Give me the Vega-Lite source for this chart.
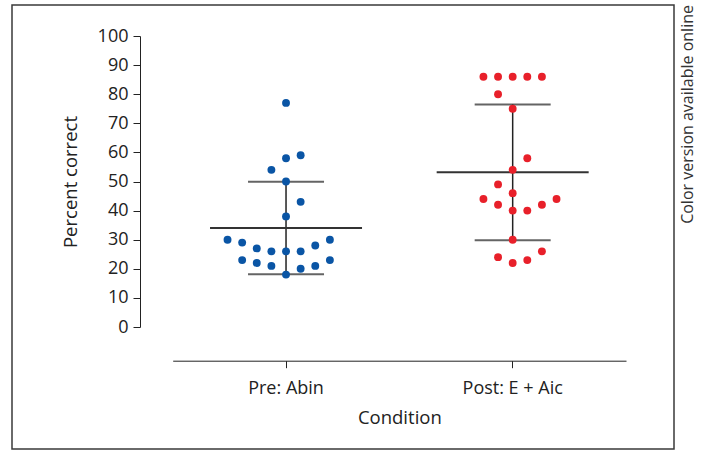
{
  "$schema": "https://vega.github.io/schema/vega-lite/v6.json",
  "width": 662,
  "height": 444,
  "autosize": "none",
  "padding": {"left": 12, "top": 5, "right": 28, "bottom": 2},
  "title": {
    "text": "Color version available online",
    "orient": "right",
    "anchor": "start",
    "angle": -90,
    "align": "right",
    "fontSize": 16,
    "fontWeight": "normal",
    "font": "Open Sans",
    "color": "#333333",
    "offset": -10,
    "frame": "group"
  },
  "config": {
    "view": {"stroke": "#3a3a3a", "strokeWidth": 1.5},
    "font": "Open Sans",
    "axis": {
      "grid": false,
      "domainColor": "#222222",
      "tickColor": "#222222",
      "labelColor": "#222222",
      "titleColor": "#222222",
      "titleFontWeight": "normal"
    }
  },
  "data": {
    "values": [
      {"condition": "Pre: Abin", "value": 77, "col": 0},
      {"condition": "Pre: Abin", "value": 59, "col": 1},
      {"condition": "Pre: Abin", "value": 58, "col": 0},
      {"condition": "Pre: Abin", "value": 54, "col": -1},
      {"condition": "Pre: Abin", "value": 50, "col": 0},
      {"condition": "Pre: Abin", "value": 43, "col": 1},
      {"condition": "Pre: Abin", "value": 38, "col": 0},
      {"condition": "Pre: Abin", "value": 30, "col": -4},
      {"condition": "Pre: Abin", "value": 30, "col": 3},
      {"condition": "Pre: Abin", "value": 29, "col": -3},
      {"condition": "Pre: Abin", "value": 27, "col": -2},
      {"condition": "Pre: Abin", "value": 26, "col": -1},
      {"condition": "Pre: Abin", "value": 26, "col": 0},
      {"condition": "Pre: Abin", "value": 26, "col": 1},
      {"condition": "Pre: Abin", "value": 28, "col": 2},
      {"condition": "Pre: Abin", "value": 23, "col": -3},
      {"condition": "Pre: Abin", "value": 23, "col": 3},
      {"condition": "Pre: Abin", "value": 22, "col": -2},
      {"condition": "Pre: Abin", "value": 21, "col": -1},
      {"condition": "Pre: Abin", "value": 21, "col": 2},
      {"condition": "Pre: Abin", "value": 20, "col": 1},
      {"condition": "Pre: Abin", "value": 18, "col": 0},
      {"condition": "Post: E + Aic", "value": 86, "col": -2},
      {"condition": "Post: E + Aic", "value": 86, "col": -1},
      {"condition": "Post: E + Aic", "value": 86, "col": 0},
      {"condition": "Post: E + Aic", "value": 86, "col": 1},
      {"condition": "Post: E + Aic", "value": 86, "col": 2},
      {"condition": "Post: E + Aic", "value": 80, "col": -1},
      {"condition": "Post: E + Aic", "value": 75, "col": 0},
      {"condition": "Post: E + Aic", "value": 58, "col": 1},
      {"condition": "Post: E + Aic", "value": 54, "col": 0},
      {"condition": "Post: E + Aic", "value": 49, "col": -1},
      {"condition": "Post: E + Aic", "value": 46, "col": 0},
      {"condition": "Post: E + Aic", "value": 44, "col": -2},
      {"condition": "Post: E + Aic", "value": 44, "col": 3},
      {"condition": "Post: E + Aic", "value": 42, "col": -1},
      {"condition": "Post: E + Aic", "value": 42, "col": 2},
      {"condition": "Post: E + Aic", "value": 40, "col": 0},
      {"condition": "Post: E + Aic", "value": 40, "col": 1},
      {"condition": "Post: E + Aic", "value": 30, "col": 0},
      {"condition": "Post: E + Aic", "value": 26, "col": 2},
      {"condition": "Post: E + Aic", "value": 24, "col": -1},
      {"condition": "Post: E + Aic", "value": 23, "col": 1},
      {"condition": "Post: E + Aic", "value": 22, "col": 0}
    ]
  },
  "encoding": {
    "x": {
      "field": "condition",
      "type": "nominal",
      "sort": ["Pre: Abin", "Post: E + Aic"],
      "scale": {"range": [160.7, 614], "paddingInner": 0, "paddingOuter": 0},
      "axis": {
        "title": "Condition",
        "offset": -88.3,
        "labelAngle": 0,
        "labelFontSize": 18,
        "labelPadding": 12,
        "tickSize": 7,
        "titleFontSize": 18.5,
        "titlePadding": 11
      }
    }
  },
  "layer": [
    {
      "mark": {"type": "errorbar", "extent": "stdev", "color": "#222222",
               "ticks": {"size": 76, "thickness": 2}, "rule": {"strokeWidth": 1.5}},
      "encoding": {
        "y": {
          "field": "value",
          "type": "quantitative",
          "scale": {"domain": [0, 100], "range": [322, 31], "nice": false},
          "axis": {
            "title": "Percent correct",
            "offset": -128,
            "values": [0, 5, 10, 15, 20, 25, 30, 35, 40, 45, 50, 55, 60, 65, 70, 75, 80, 85, 90, 95, 100],
            "labelExpr": "datum.value % 10 === 0 ? datum.label : ''",
            "labelOverlap": false,
            "tickSize": {"condition": {"test": "datum.value % 10 !== 0", "value": 4}, "value": 7},
            "labelFontSize": 18,
            "labelPadding": 5,
            "titleFontSize": 18.5,
            "titlePadding": 17
          }
        }
      }
    },
    {
      "mark": {"type": "tick", "size": 152, "thickness": 2, "color": "#333333"},
      "encoding": {
        "y": {"aggregate": "mean", "field": "value", "type": "quantitative"}
      }
    },
    {
      "mark": {"type": "circle", "size": 62, "opacity": 1},
      "encoding": {
        "y": {"field": "value", "type": "quantitative"},
        "xOffset": {"field": "col", "type": "quantitative", "scale": {"domain": [-7.75, 7.75]}},
        "color": {
          "field": "condition",
          "type": "nominal",
          "scale": {"domain": ["Pre: Abin", "Post: E + Aic"], "range": ["#0a55a5", "#e8202a"]},
          "legend": null
        }
      }
    }
  ]
}
